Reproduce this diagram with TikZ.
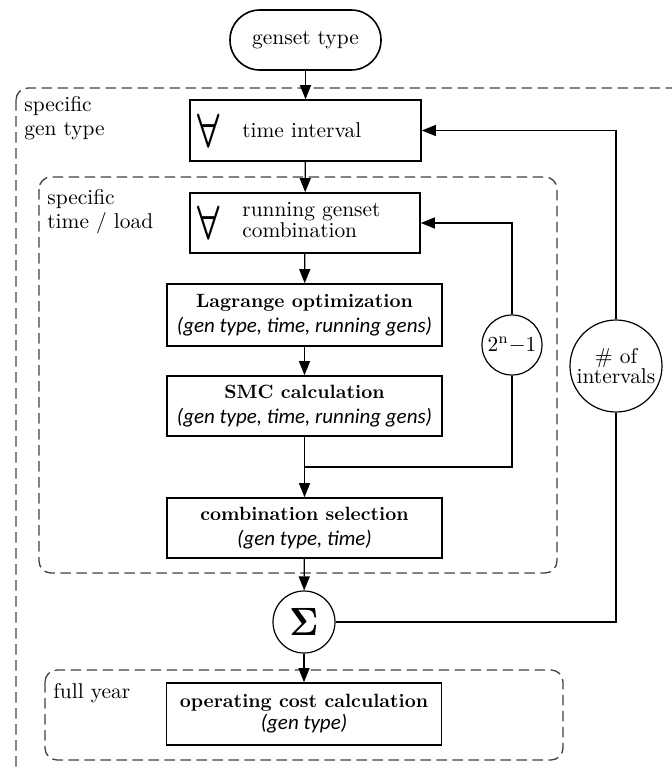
\documentclass[tikz,border=0pt]{standalone}
\usepackage[no-math]{fontspec}
\usepackage{graphicx}
\newfontfamily\itsans{Carlito}
\usetikzlibrary{arrows.meta,calc}
\newcommand\myall{$\vcenter{\hbox{\scalebox{1.6}[2.2]{\boldmath$\forall$}}}$}
\begin{document}
\begin{tikzpicture}[x=0.5pt,y=-0.5pt,
  fs/.style={font=\fontsize{10.7}{12}\selectfont},
  box/.style={draw, line width=0.8pt, inner sep=0pt, fs, align=center},
  lbox/.style={box, align=left, inner xsep=3.5pt},
  grp/.style={draw=black!75, line width=0.65pt, dash pattern=on 5.3pt off 2.7pt, rounded corners=6pt},
  arr/.style={line width=0.6pt, -{Triangle[length=7pt,width=5.5pt]}},
  ln/.style={line width=0.6pt},
  circ/.style={draw, circle, line width=0.6pt, inner sep=0pt, fill=white, fs, align=center},
  lbl/.style={fs, align=left, anchor=north west, inner sep=0pt}
]
\useasboundingbox (0,0) rectangle (672,767);
\begin{scope}
  \clip (0,0) rectangle (672,767);
  \draw[grp] (16,88) rectangle (740,820);
\end{scope}
\draw[grp] (39,177) rectangle (557,573);
\draw[grp] (45,670) rectangle (563,760);

\node[lbl] (l1) at (24,96) {specific\\gen type};
\node[lbl] (l2) at (47,189) {specific\\time / load};
\node[lbl] (l3) at (53,683) {full year};

\node[box, rounded corners=14.9pt, minimum width=75.5pt, minimum height=30pt] (gt) at (305.5,40) {genset type};
\node[lbox, text width=108.5pt, minimum height=30.5pt] (ti) at (305.5,130.5)
  {\myall\hspace{11.5pt}$\vcenter{\hbox{time interval}}$};
\node[lbox, text width=108pt, minimum height=30pt] (rc) at (305,223)
  {\myall\hspace{11.5pt}$\vcenter{\hbox{\fontsize{10.7}{10.5}\selectfont\begin{tabular}{@{}l@{}}running genset\\combination\end{tabular}}}$};
\node[box, minimum width=137.5pt, minimum height=31pt] (lag) at (304.5,315)
  {{\bfseries\fontsize{9.6}{12.5}\selectfont Lagrange optimization}\\[0.5pt]{\itsans\itshape\fontsize{10.5}{12.5}\selectfont (gen type, time, running gens)}};
\node[box, minimum width=137.5pt, minimum height=30pt] (smc) at (304.5,406)
  {{\bfseries\fontsize{9.6}{12.5}\selectfont SMC calculation}\\[0.5pt]{\itsans\itshape\fontsize{10.5}{12.5}\selectfont (gen type, time, running gens)}};
\node[box, minimum width=137.5pt, minimum height=30pt] (comb) at (304.5,528)
  {{\bfseries\fontsize{9.6}{12.5}\selectfont combination selection}\\[0.5pt]{\itsans\itshape\fontsize{10.5}{12.5}\selectfont (gen type, time)}};
\node[circ, minimum size=31pt] (sig) at (304,622) {\scalebox{1.6}[1.8]{$\mathbf{\Sigma}$}};
\node[box, minimum width=137.5pt, minimum height=31pt] (opc) at (304,714)
  {{\bfseries\fontsize{9.6}{12.5}\selectfont operating cost calculation}\\[-1pt]{\itsans\itshape\fontsize{10.5}{12.5}\selectfont (gen type)}};
\node[circ, minimum size=30pt] (n2) at (512,345) {2\textsuperscript{n}$-$1};
\node[circ, minimum size=46pt, font=\fontsize{10.7}{10}\selectfont] (nint) at (616,366) {\# of\\intervals};

\coordinate (m) at (304.5,467);
\draw[arr] (gt) -- (ti);
\draw[arr] (ti) -- (rc);
\draw[arr] (rc) -- (lag);
\draw[arr] (lag) -- (smc);
\draw[ln] (smc) -- (m);
\draw[arr] (m) -- (comb);
\draw[ln] (m) -| (n2);
\draw[arr] (n2) |- (rc);
\draw[arr] (comb) -- (sig);
\draw[arr] (sig) -- (opc);
\draw[ln] (sig) -| (nint);
\draw[arr] (nint) |- (ti);
\end{tikzpicture}
\end{document}
